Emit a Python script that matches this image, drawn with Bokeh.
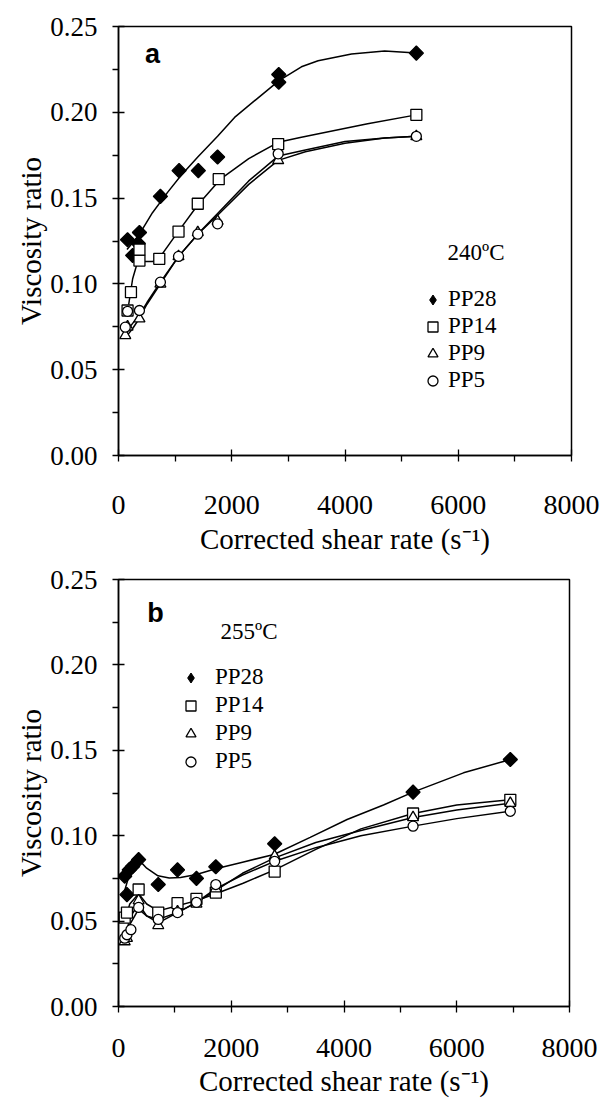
import math
from bokeh.plotting import figure
from bokeh.models import (Range1d, FixedTicker, NumeralTickFormatter, Legend,
                          LegendItem, Label)
from bokeh.layouts import column
from bokeh.embed import file_html
from bokeh.resources import INLINE

# ---------------- data: panel a (240 C) ----------------
a_pp28_x = [160, 250, 350, 370, 740, 1070, 1410, 1750, 2830, 2830, 5260]
a_pp28_y = [0.1257, 0.1166, 0.1235, 0.1300, 0.151, 0.166, 0.166, 0.174, 0.2175, 0.222, 0.2345]
a_pp14_x = [160, 220, 370, 370, 720, 1060, 1400, 1770, 2820, 5260]
a_pp14_y = [0.0845, 0.0952, 0.1136, 0.120, 0.1146, 0.1305, 0.1467, 0.161, 0.1815, 0.1985]
a_pp9_x = [120, 160, 370, 740, 1060, 1400, 1750, 2820, 5260]
a_pp9_y = [0.070, 0.075, 0.0797, 0.100, 0.116, 0.130, 0.1365, 0.172, 0.186]
a_pp5_x = [120, 160, 370, 740, 1060, 1400, 1750, 2820, 5260]
a_pp5_y = [0.0748, 0.084, 0.0845, 0.101, 0.116, 0.129, 0.135, 0.1758, 0.186]

# fitted curves (panel a)
a_fit28_x = [150, 250, 370, 600, 870, 1100, 1400, 1750, 2050, 2450, 2835, 3230, 3525, 4115, 4700, 5260]
a_fit28_y = [0.120, 0.124, 0.129, 0.1415, 0.1535, 0.163, 0.174, 0.186, 0.197, 0.208, 0.2185, 0.2265, 0.230, 0.234, 0.2357, 0.2345]
a_fit14_x = [180, 250, 330, 450, 600, 720, 1000, 1400, 1800, 2300, 2820, 3230, 4400, 5260]
a_fit14_y = [0.088, 0.103, 0.112, 0.113, 0.113, 0.115, 0.128, 0.146, 0.161, 0.173, 0.1825, 0.1855, 0.1933, 0.1985]
a_fit9_x = [130, 250, 370, 500, 740, 1060, 1400, 1750, 2300, 2820, 3300, 4000, 4700, 5260]
a_fit9_y = [0.069, 0.074, 0.080, 0.088, 0.100, 0.116, 0.129, 0.140, 0.158, 0.172, 0.177, 0.182, 0.185, 0.186]
a_fit5_x = [130, 250, 370, 500, 740, 1060, 1400, 1750, 2300, 2820, 3300, 4000, 4700, 5260]
a_fit5_y = [0.072, 0.077, 0.082, 0.089, 0.101, 0.116, 0.129, 0.141, 0.160, 0.1745, 0.178, 0.183, 0.185, 0.186]

# ---------------- data: panel b (255 C) ----------------
b_pp28_x = [110, 150, 190, 250, 357, 705, 1047, 1383, 1726, 2770, 5225, 6950]
b_pp28_y = [0.0763, 0.0655, 0.080, 0.082, 0.086, 0.0714, 0.080, 0.075, 0.0818, 0.0953, 0.1255, 0.1446]
b_pp14_x = [110, 150, 357, 705, 1047, 1383, 1726, 2770, 5225, 6950]
b_pp14_y = [0.052, 0.055, 0.0685, 0.055, 0.0605, 0.063, 0.0667, 0.079, 0.113, 0.121]
b_pp9_x = [110, 150, 357, 705, 1047, 1383, 1726, 2770, 5225, 6950]
b_pp9_y = [0.038, 0.040, 0.062, 0.0475, 0.0555, 0.060, 0.069, 0.088, 0.1107, 0.119]
b_pp5_x = [110, 150, 220, 357, 705, 1047, 1383, 1726, 2770, 5225, 6950]
b_pp5_y = [0.040, 0.042, 0.045, 0.058, 0.051, 0.055, 0.061, 0.0714, 0.085, 0.1056, 0.1143]

b_fit28_x = [110, 200, 357, 500, 700, 900, 1100, 1383, 1726, 2200, 2757, 3400, 4055, 4700, 5225, 6120, 6950]
b_fit28_y = [0.068, 0.078, 0.086, 0.081, 0.0765, 0.0753, 0.0755, 0.0773, 0.0806, 0.0845, 0.089, 0.099, 0.1095, 0.118, 0.1255, 0.1368, 0.1446]
b_fitx = [110, 200, 357, 500, 705, 1047, 1383, 1726, 2200, 2770, 3500, 4300, 5225, 6000, 6950]
b_fit14_y = [0.050, 0.060, 0.066, 0.060, 0.056, 0.059, 0.062, 0.066, 0.072, 0.080, 0.092, 0.104, 0.113, 0.118, 0.121]
b_fit9_y = [0.038, 0.052, 0.060, 0.053, 0.049, 0.055, 0.061, 0.068, 0.078, 0.087, 0.096, 0.103, 0.1107, 0.115, 0.119]
b_fit5_y = [0.040, 0.048, 0.057, 0.053, 0.051, 0.055, 0.061, 0.069, 0.077, 0.085, 0.093, 0.100, 0.1056, 0.110, 0.1143]

x_ticks = [0, 2000, 4000, 6000, 8000]
x_minor = [1000, 3000, 5000, 7000]
y_ticks = [0.0, 0.05, 0.10, 0.15, 0.20, 0.25]
y_minor = [0.025, 0.075, 0.125, 0.175, 0.225]
series_names = ["PP28", "PP14", "PP9", "PP5"]

SERIF = "Liberation Serif"


def make_panel(letter, temp, fw, fh, ml, mt, mb, xstd, xlab_std,
               series, fits, leg_loc, leg_std, leg_spacing, temp_pos,
               letter_pos):
    p = figure(frame_width=fw, frame_height=fh, min_border_left=ml,
               min_border_right=600 - ml - fw, min_border_top=mt,
               min_border_bottom=mb, output_backend="svg",
               toolbar_location=None, x_range=Range1d(0, 8000),
               y_range=Range1d(0, 0.25))
    p.grid.visible = False
    p.outline_line_color = "black"
    p.outline_line_width = 1.5
    p.background_fill_color = "white"
    p.border_fill_color = "white"

    p.xaxis.ticker = FixedTicker(ticks=x_ticks, minor_ticks=x_minor)
    p.yaxis.ticker = FixedTicker(ticks=y_ticks, minor_ticks=y_minor)
    p.xaxis.formatter = NumeralTickFormatter(format="0")
    p.yaxis.formatter = NumeralTickFormatter(format="0.00")
    for ax in (p.xaxis, p.yaxis):
        ax.axis_line_color = "black"
        ax.axis_line_width = 1.5
        ax.major_tick_line_color = "black"
        ax.major_tick_line_width = 1.3
        ax.minor_tick_line_color = "black"
        ax.minor_tick_line_width = 1.3
        ax.major_tick_in = 6
        ax.major_tick_out = 6
        ax.minor_tick_in = 0
        ax.minor_tick_out = 6
        ax.major_label_text_font = SERIF
        ax.major_label_text_color = "black"
        ax.axis_label_text_font = SERIF
        ax.axis_label_text_font_size = "29px"
        ax.axis_label_text_font_style = "normal"
        ax.axis_label_text_color = "black"
    p.xaxis.major_label_text_font_size = "28px"
    p.yaxis.major_label_text_font_size = "27px"
    p.xaxis.axis_label = "Corrected shear rate (s\u207b\u00b9)"
    p.yaxis.axis_label = "Viscosity ratio"
    p.xaxis.major_label_standoff = xstd
    p.xaxis.axis_label_standoff = xlab_std
    p.yaxis.major_label_standoff = 15
    p.yaxis.axis_label_standoff = 0

    # (marker, size, fill, angle, legend marker)
    markers = [("square", 10, "black", math.pi / 4, "diamond"),
               ("square", 11, "white", 0.0, "square"),
               ("triangle", 11, "white", 0.0, "triangle"),
               ("circle", 10, "white", 0.0, "circle")]
    items = []
    for (fx, fy) in fits:
        p.line(fx, fy, line_color="black", line_width=1.5)
    for name, (sx, sy), (mk, sz, fc, ang, lmk) in zip(series_names, series, markers):
        proxy = None
        if lmk != mk:
            # key glyph: same points, drawn underneath (hidden by the
            # rotated squares) so that the legend shows a diamond
            proxy = p.scatter(sx, sy, marker=lmk, size=sz, fill_color=fc,
                              line_color="black", line_width=1.0)
        r = p.scatter(sx, sy, marker=mk, size=sz, fill_color=fc, angle=ang,
                      line_color="black", line_width=1.3)
        items.append(LegendItem(label=name, renderers=[proxy or r]))

    leg = Legend(items=items, location=leg_loc)
    leg.background_fill_alpha = 0
    leg.border_line_alpha = 0
    leg.padding = 0
    leg.margin = 0
    leg.glyph_width = 25
    leg.glyph_height = 25
    leg.label_height = 25
    leg.spacing = leg_spacing
    leg.label_standoff = leg_std
    leg.label_text_font = SERIF
    leg.label_text_font_size = "23px"
    leg.label_text_color = "black"
    p.add_layout(leg)

    p.add_layout(Label(x=temp_pos[0], y=temp_pos[1], x_units="screen",
                       y_units="screen", text=temp, text_font=SERIF,
                       text_font_size="23px", text_baseline="middle",
                       text_align="left", text_color="black"))
    p.add_layout(Label(x=letter_pos[0], y=letter_pos[1], x_units="screen",
                       y_units="screen", text=letter,
                       text_font="Liberation Sans", text_font_style="bold",
                       text_font_size="27px", text_baseline="middle",
                       text_align="center", text_color="black"))
    return p


pa = make_panel("a", "240\u00baC", 453, 429, 118, 26, 100, 34, 6,
                [(a_pp28_x, a_pp28_y), (a_pp14_x, a_pp14_y),
                 (a_pp9_x, a_pp9_y), (a_pp5_x, a_pp5_y)],
                [(a_fit28_x, a_fit28_y), (a_fit14_x, a_fit14_y),
                 (a_fit9_x, a_fit9_y), (a_fit5_x, a_fit5_y)],
                (302, 62), 3, 1, (329, 203), (34, 402))

pb = make_panel("b", "255\u00baC", 451, 427, 116, 22, 90, 26, 5,
                [(b_pp28_x, b_pp28_y), (b_pp14_x, b_pp14_y),
                 (b_pp9_x, b_pp9_y), (b_pp5_x, b_pp5_y)],
                [(b_fit28_x, b_fit28_y), (b_fitx, b_fit14_y),
                 (b_fitx, b_fit9_y), (b_fitx, b_fit5_y)],
                (60, 232), 12, 2, (102, 375), (37, 394))

layout = column(pa, pb, spacing=0)
open("out.html", "w").write(file_html(layout, INLINE))
